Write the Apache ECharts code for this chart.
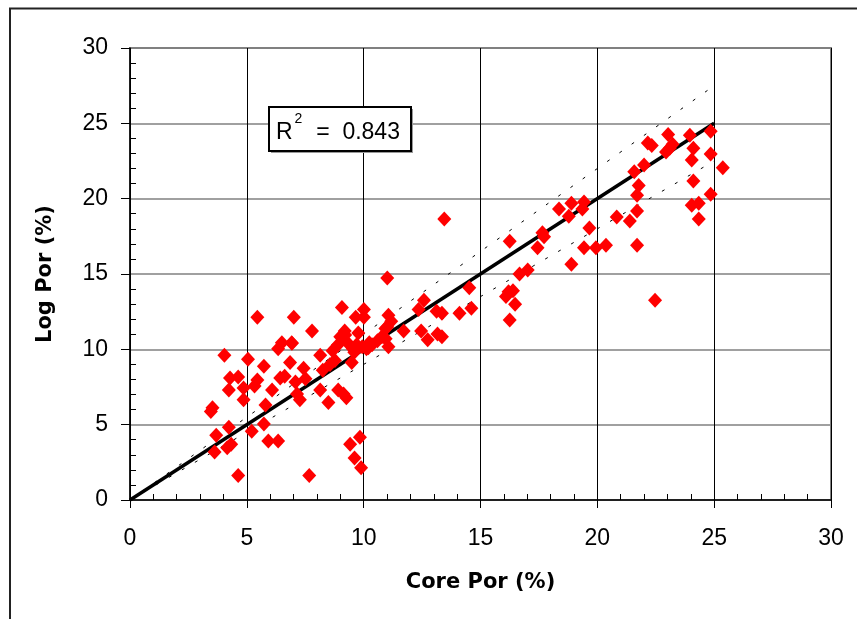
<!DOCTYPE html>
<html>
<head>
<meta charset="utf-8">
<title>Log Por vs Core Por</title>
<script src="https://cdn.jsdelivr.net/npm/echarts@6/dist/echarts.min.js"></script>
<style>
  html, body { margin: 0; padding: 0; background: #fff; }
  #chart { width: 857px; height: 619px; }
</style>
</head>
<body>
<div id="chart"></div>
<script>
// core porosity (x) and log porosity (y)
var corePor = [3.46, 3.53, 3.62, 3.69, 4.04, 4.16, 4.23, 4.23, 4.28, 4.33,
    4.63, 4.63, 4.86, 4.86, 5.05, 5.21, 5.33, 5.45, 5.45, 5.73,
    5.80, 5.73, 5.92, 6.08, 6.34, 6.34, 6.50, 6.43, 6.62, 6.85,
    6.92, 7.01, 7.08, 7.15, 7.27, 7.43, 7.51, 7.67, 7.79, 8.14,
    8.14, 8.25, 8.49, 8.56, 8.67, 8.77, 8.91, 9.00, 9.07, 9.14,
    9.26, 9.19, 9.31, 9.42, 9.49, 9.54, 9.61, 9.66, 9.70, 9.77,
    9.84, 9.89, 10.01, 10.01, 9.94, 10.12, 10.24, 10.36, 10.59, 10.78,
    10.94, 11.06, 11.01, 11.06, 11.18, 11.01, 11.71, 12.35, 12.46, 12.58,
    12.74, 13.12, 13.16, 13.35, 13.35, 13.45, 14.10, 14.52, 14.61, 16.09,
    16.20, 16.25, 16.25, 16.39, 16.48, 16.67, 17.02, 17.44, 17.65, 17.72,
    18.36, 18.78, 18.89, 18.89, 19.36, 19.43, 19.43, 19.66, 19.94, 20.37,
    20.83, 21.39, 21.58, 21.70, 21.77, 21.70, 21.70, 22.00, 22.16, 22.33,
    22.47, 22.94, 23.03, 23.10, 23.22, 23.96, 24.04, 24.11, 24.11, 24.04,
    24.34, 24.34, 24.85, 24.85, 24.85, 25.37, 6.93, 10.93, 9.21, 9.60,
    10.20, 8.90];
var logPor = [5.87, 6.13, 3.18, 4.30, 9.60, 3.47, 4.83, 7.30, 8.09, 3.70,
    8.17, 1.62, 7.44, 6.65, 9.34, 4.57, 7.57, 7.96, 12.13, 8.87,
    6.31, 5.04, 3.91, 7.30, 10.04, 3.91, 10.44, 8.09, 8.22, 9.13,
    10.44, 12.13, 7.83, 7.04, 6.65, 8.74, 8.04, 1.62, 11.22, 9.60,
    7.30, 8.61, 6.47, 9.00, 9.91, 9.26, 7.30, 10.83, 12.78, 7.04,
    6.78, 11.22, 10.44, 3.70, 9.13, 10.04, 2.79, 12.13, 10.31, 11.09,
    4.17, 2.14, 12.65, 12.13, 10.17, 10.04, 10.44, 10.31, 10.57, 10.83,
    10.70, 10.17, 11.48, 12.26, 11.87, 14.74, 11.22, 12.65, 11.22, 13.25,
    10.64, 12.52, 11.01, 10.83, 12.39, 18.65, 12.39, 14.09, 12.73, 13.51,
    13.83, 17.17, 11.95, 13.88, 12.99, 15.00, 15.26, 16.75, 17.74, 17.48,
    19.31, 18.84, 19.70, 15.65, 19.31, 19.78, 16.75, 18.05, 16.75, 16.91,
    18.78, 18.52, 21.78, 20.22, 20.87, 19.18, 16.91, 22.23, 23.69, 23.53,
    13.25, 23.09, 24.26, 23.35, 23.61, 24.21, 22.57, 23.35, 21.18, 19.57,
    19.70, 18.65, 24.47, 22.96, 20.30, 22.05, 10.40, 11.39, 10.95, 9.80,
    10.10, 10.30];

// 1:1 line and +/-10% bands
var fitX = [0, 25];
var fitY = [0, 25];
var upperY = [0, 27.5];
var lowerY = [0, 22.5];
var rSquared = '0.843';

function pairs(xs, ys) {
    return xs.map(function (x, i) { return [x, ys[i]]; });
}

var chart = echarts.init(document.getElementById('chart'));

var option = {
    backgroundColor: '#fff',
    animation: false,
    grid: {
        left: 130,
        top: 48,
        right: 26,
        bottom: 119,
        show: true,
        borderColor: '#808080',
        borderWidth: 2,
        backgroundColor: 'transparent'
    },
    xAxis: {
        type: 'value',
        min: 0,
        max: 30,
        interval: 5,
        name: 'Core Por (%)',
        nameLocation: 'middle',
        nameGap: 72,
        nameTextStyle: {
            fontFamily: 'DejaVu Sans',
            fontWeight: 'bold',
            fontSize: 21,
            color: '#000'
        },
        axisLine: { lineStyle: { color: '#000', width: 1.5 } },
        axisTick: { show: true, inside: false, length: 8, lineStyle: { color: '#000', width: 1 } },
        minorTick: { show: true, splitNumber: 5, length: -6, lineStyle: { color: '#000', width: 1 } },
        axisLabel: {
            margin: 27,
            fontFamily: 'Liberation Sans',
            fontSize: 23,
            color: '#000'
        },
        splitLine: { show: true, lineStyle: { color: '#000', width: 1 } }
    },
    yAxis: {
        type: 'value',
        min: 0,
        max: 30,
        interval: 5,
        name: 'Log Por (%)',
        nameLocation: 'middle',
        nameGap: 74,
        nameTextStyle: {
            fontFamily: 'DejaVu Sans',
            fontWeight: 'bold',
            fontSize: 21,
            color: '#000'
        },
        axisLine: { lineStyle: { color: '#000', width: 1.5 } },
        axisTick: { show: true, inside: false, length: 9, lineStyle: { color: '#000', width: 1 } },
        minorTick: { show: true, splitNumber: 5, length: -6, lineStyle: { color: '#000', width: 1 } },
        axisLabel: {
            margin: 22,
            fontFamily: 'Liberation Sans',
            fontSize: 23,
            color: '#000'
        },
        splitLine: { show: true, lineStyle: { color: '#808080', width: 1.5 } }
    },
    graphic: [
        {
            // outer frame (left and top edges only)
            type: 'polyline',
            shape: { points: [[10, 619], [10, 8.5], [857, 8.5]] },
            style: { stroke: '#222', lineWidth: 2, fill: null },
            silent: true
        },
        {
            type: 'rect',
            shape: { x: 271, y: 109, width: 142, height: 44 },
            style: { fill: '#999', stroke: null },
            silent: true,
            z: 10
        },
        {
            type: 'rect',
            shape: { x: 269, y: 107, width: 142, height: 44 },
            style: { fill: '#fff', stroke: '#000', lineWidth: 2 },
            silent: true,
            z: 11
        },
        {
            type: 'text',
            left: 276,
            top: 112,
            z: 12,
            style: {
                text: '{r|R}{sup|2}{r|  =  ' + rSquared + '}',
                rich: {
                    r: { fontFamily: 'Liberation Sans', fontSize: 23, color: '#000', lineHeight: 32, verticalAlign: 'bottom' },
                    sup: { fontFamily: 'Liberation Sans', fontSize: 14, color: '#000', lineHeight: 16, verticalAlign: 'top', padding: [0, 1, 0, 2] }
                }
            }
        }
    ],
    series: [
        {
            name: 'upper',
            type: 'line',
            data: pairs(fitX, upperY),
            symbol: 'none',
            lineStyle: { color: '#000', width: 1, type: [3, 12] },
            z: 2
        },
        {
            name: 'lower',
            type: 'line',
            data: pairs(fitX, lowerY),
            symbol: 'none',
            lineStyle: { color: '#000', width: 1, type: [3, 12] },
            z: 2
        },
        {
            name: 'fit',
            type: 'line',
            data: pairs(fitX, fitY),
            symbol: 'none',
            lineStyle: { color: '#000', width: 3.5 },
            z: 3
        },
        {
            name: 'data',
            type: 'scatter',
            data: pairs(corePor, logPor),
            symbol: 'diamond',
            symbolSize: [14, 15],
            itemStyle: { color: '#ff0000', opacity: 1 },
            z: 4
        }
    ]
};

chart.setOption(option);
</script>
</body>
</html>
